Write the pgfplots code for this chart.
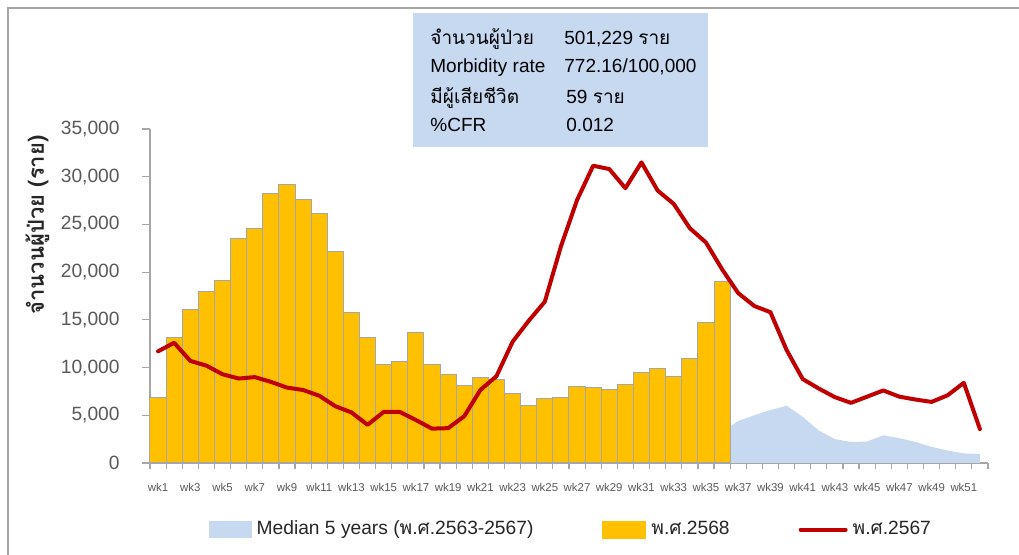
\documentclass[border=0pt]{standalone}
\usepackage{fontspec}
\setmainfont{Liberation Sans}
\newfontfamily\thaifont[Script=Thai]{Loma}
\usepackage{pgfplots}
\pgfplotsset{compat=1.18}
\definecolor{barorange}{HTML}{FFC000}
\definecolor{medblue}{HTML}{C6D9F1}
\definecolor{linered}{HTML}{C00000}
\definecolor{axisgray}{HTML}{A6A6A6}
\definecolor{labelgray}{HTML}{595959}

% weekly cases, 2568 (bars)
\pgfplotstableread{
wk cases
1 6900
2 13100
3 16100
4 17950
5 19100
6 23500
7 24550
8 28250
9 29150
10 27600
11 26100
12 22200
13 15800
14 13100
15 10300
16 10650
17 13700
18 10350
19 9300
20 8100
21 8950
22 8750
23 7250
24 6050
25 6750
26 6900
27 8000
28 7900
29 7750
30 8250
31 9500
32 9900
33 9100
34 10950
35 14750
36 19000
}\casesnow

% weekly cases, 2567 (line)
\pgfplotstableread{
wk cases
1 11700
2 12600
3 10700
4 10200
5 9300
6 8850
7 9000
8 8500
9 7900
10 7650
11 7050
12 5950
13 5300
14 4000
15 5350
16 5350
17 4500
18 3600
19 3650
20 4900
21 7650
22 9100
23 12700
24 14900
25 16900
26 22700
27 27550
28 31150
29 30800
30 28800
31 31500
32 28550
33 27150
34 24600
35 23100
36 20300
37 17800
38 16450
39 15800
40 11850
41 8800
42 7800
43 6900
44 6300
45 6950
46 7600
47 6950
48 6650
49 6400
50 7100
51 8400
52 3550
}\caseslast

% median 5 years (only the part not hidden by the bars)
\pgfplotstableread{
wk cases
36 3200
37 4400
38 5000
39 5550
40 6000
41 4850
42 3400
43 2500
44 2200
45 2250
46 2900
47 2600
48 2200
49 1700
50 1300
51 1000
52 950
}\median

\begin{document}
\begin{tikzpicture}[x=1pt,y=1pt]
\path[use as bounding box] (0,0) rectangle (509.5,277.5);
\draw[axisgray, line width=0.9pt] (4,0) -- (4,273.5) -- (509.5,273.5);

\begin{axis}[
  at={(75pt,46pt)}, anchor=south west,
  scale only axis, width=419pt, height=167pt,
  xmin=0.5, xmax=52.5, ymin=0, ymax=35000,
  axis x line*=bottom, axis y line*=left,
  axis line style={draw=axisgray, line width=0.6pt, -},
  tick align=outside,
  major tick length=4pt, minor tick length=3pt,
  xtick={1,3,...,51},
  xticklabels={wk1,wk3,wk5,wk7,wk9,wk11,wk13,wk15,wk17,wk19,wk21,wk23,wk25,wk27,wk29,wk31,wk33,wk35,wk37,wk39,wk41,wk43,wk45,wk47,wk49,wk51},
  xtick style={draw=none},
  minor xtick={0.5,1.5,...,52.5},
  minor x tick style={draw=axisgray, line width=0.6pt},
  ytick={0,5000,...,35000},
  ytick style={draw=axisgray, line width=0.6pt},
  scaled y ticks=false,
  /pgf/number format/1000 sep={,},
  /pgf/number format/assume math mode=true,
  yticklabel style={font=\fontsize{9.6}{11}\selectfont, text=labelgray, inner sep=0pt, xshift=-11pt},
  xticklabel style={font=\fontsize{5.7}{7}\selectfont, text=labelgray, inner sep=0pt, yshift=-6pt},
  legend columns=3,
  legend style={at={(0.0696,-0.1997)}, anchor=west, draw=none, fill=none,
    font=\fontsize{9.6}{11}\selectfont, text=black!85, inner sep=0pt,
    nodes={inner sep=0pt, text height=6.8pt, text depth=2pt},
    /tikz/every odd column/.append style={column sep=2.5pt},
    /tikz/every even column/.append style={column sep=34.5pt}},
]
\addplot[fill=medblue, draw=none,
  legend image code/.code={\fill[medblue] (0pt,-4.3pt) rectangle (21.5pt,4.3pt);}]
  table[x=wk, y=cases] {\median} \closedcycle;
\addlegendentry{Median 5 years ({\thaifont พ.ศ.}2563-2567)}

\addplot[ybar, bar width=1, bar shift=0pt, fill=barorange, draw=axisgray, line width=0.5pt,
  legend image code/.code={\fill[barorange] (0pt,-4.3pt) rectangle (21.5pt,4.3pt);}]
  table[x=wk, y=cases] {\casesnow};
\addlegendentry{{\thaifont พ.ศ.}2568}

\addplot[linered, line width=2pt, line join=round, line cap=round,
  legend image code/.code={\draw[linered, line width=2pt, line cap=round] (0pt,0pt) -- (22.5pt,0pt);}]
  table[x=wk, y=cases] {\caseslast};
\addlegendentry{{\thaifont พ.ศ.}2567}
\end{axis}

\node[rotate=90, font={\fontsize{11}{13}\selectfont\thaifont\bfseries}, text=black!85]
  at (18.75,165) {จำนวนผู้ป่วย (ราย)};

\fill[medblue] (206.5,204.2) rectangle (353.8,271);
\begin{scope}[every node/.style={anchor=base west, inner sep=0pt, font=\fontsize{9.5}{11}\selectfont, text=black}]
\node at (215,255) {\thaifont จำนวนผู้ป่วย};
\node at (282,255) {501,229 {\thaifont ราย}};
\node at (215,241.2) {Morbidity rate};
\node at (282,241.2) {772.16/100,000};
\node at (215,225.9) {\thaifont มีผู้เสียชีวิต};
\node at (283,225.9) {59 {\thaifont ราย}};
\node at (215,211.7) {\%CFR};
\node at (283,211.7) {0.012};
\end{scope}
\end{tikzpicture}
\end{document}
